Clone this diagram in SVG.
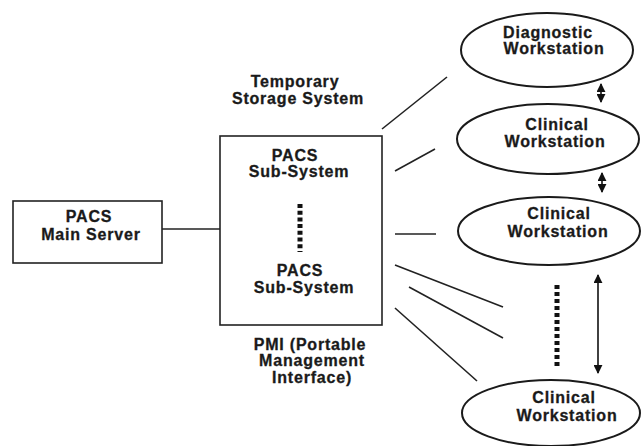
<svg xmlns="http://www.w3.org/2000/svg" width="644" height="446" viewBox="0 0 644 446">
<defs>
<style>
text{font-family:"Liberation Sans",Arial,sans-serif;font-weight:bold;font-size:16px;fill:#1a1a1a;stroke:#1a1a1a;stroke-width:0.3;text-anchor:middle;letter-spacing:0.8px}
.box{fill:#fff;stroke:#222;stroke-width:1.6}
.ell{fill:#fff;stroke:#1a1a1a;stroke-width:2}
.ln{stroke:#222;stroke-width:1.6;fill:none}
.dots{stroke:#111;stroke-width:5;fill:none}
.arr{stroke:#111;stroke-width:1.6;fill:none;marker-start:url(#ah);marker-end:url(#ah)}
</style>
<marker id="ah" viewBox="0 0 10 10" refX="9" refY="5" markerWidth="9" markerHeight="9" orient="auto-start-reverse" markerUnits="userSpaceOnUse">
<path d="M0,0 L10,5 L0,10 z" fill="#111"/>
</marker>
</defs>
<rect width="644" height="446" fill="#fff"/>
<g id="connectors">
<line class="ln" x1="162" y1="229" x2="220" y2="229"/>
<line class="ln" x1="382" y1="129" x2="447" y2="77"/>
<line class="ln" x1="395" y1="171" x2="435" y2="149"/>
<line class="ln" x1="395" y1="234" x2="436" y2="234"/>
<line class="ln" x1="395" y1="265" x2="503" y2="307"/>
<line class="ln" x1="409" y1="287" x2="503" y2="338"/>
<line class="ln" x1="395" y1="308" x2="477" y2="381"/>
<line class="dots" x1="557" y1="285" x2="557" y2="369" stroke-dasharray="4 3"/>
<line class="arr" x1="601" y1="84" x2="601" y2="102"/>
<line class="arr" x1="602" y1="173" x2="602" y2="192"/>
<line class="arr" x1="598" y1="275" x2="598" y2="373"/>
</g>
<g id="main-server">
<rect class="box" x="13" y="201" width="149" height="62"/>
<text x="89" y="222">PACS</text>
<text x="91" y="240" letter-spacing="2">Main Server</text>
</g>
<g id="temp-storage-label">
<text x="295" y="87">Temporary</text>
<text x="298" y="104">Storage System</text>
</g>
<g id="subsystem-box">
<rect class="box" x="220" y="136" width="162" height="189"/>
<text x="295" y="161">PACS</text>
<text x="299" y="177">Sub-System</text>
<line class="dots" x1="300" y1="204" x2="300" y2="252" stroke-dasharray="4 2.7"/>
<text x="300" y="276">PACS</text>
<text x="304" y="293">Sub-System</text>
</g>
<g id="pmi-label">
<text x="310" y="350">PMI (Portable</text>
<text x="312" y="366">Management</text>
<text x="312" y="383">Interface)</text>
</g>
<g id="diagnostic-ws">
<ellipse class="ell" cx="547" cy="50" rx="86" ry="37"/>
<text x="548" y="38">Diagnostic</text>
<text x="554" y="54">Workstation</text>
</g>
<g id="clinical-ws-1">
<ellipse class="ell" cx="548" cy="139" rx="91" ry="35"/>
<text x="557" y="130">Clinical</text>
<text x="555" y="147">Workstation</text>
</g>
<g id="clinical-ws-2">
<ellipse class="ell" cx="549" cy="231" rx="91" ry="34"/>
<text x="559" y="219">Clinical</text>
<text x="558" y="237">Workstation</text>
</g>
<g id="clinical-ws-3">
<ellipse class="ell" cx="551" cy="413" rx="89" ry="33"/>
<text x="564" y="403">Clinical</text>
<text x="567" y="421">Workstation</text>
</g>
</svg>
